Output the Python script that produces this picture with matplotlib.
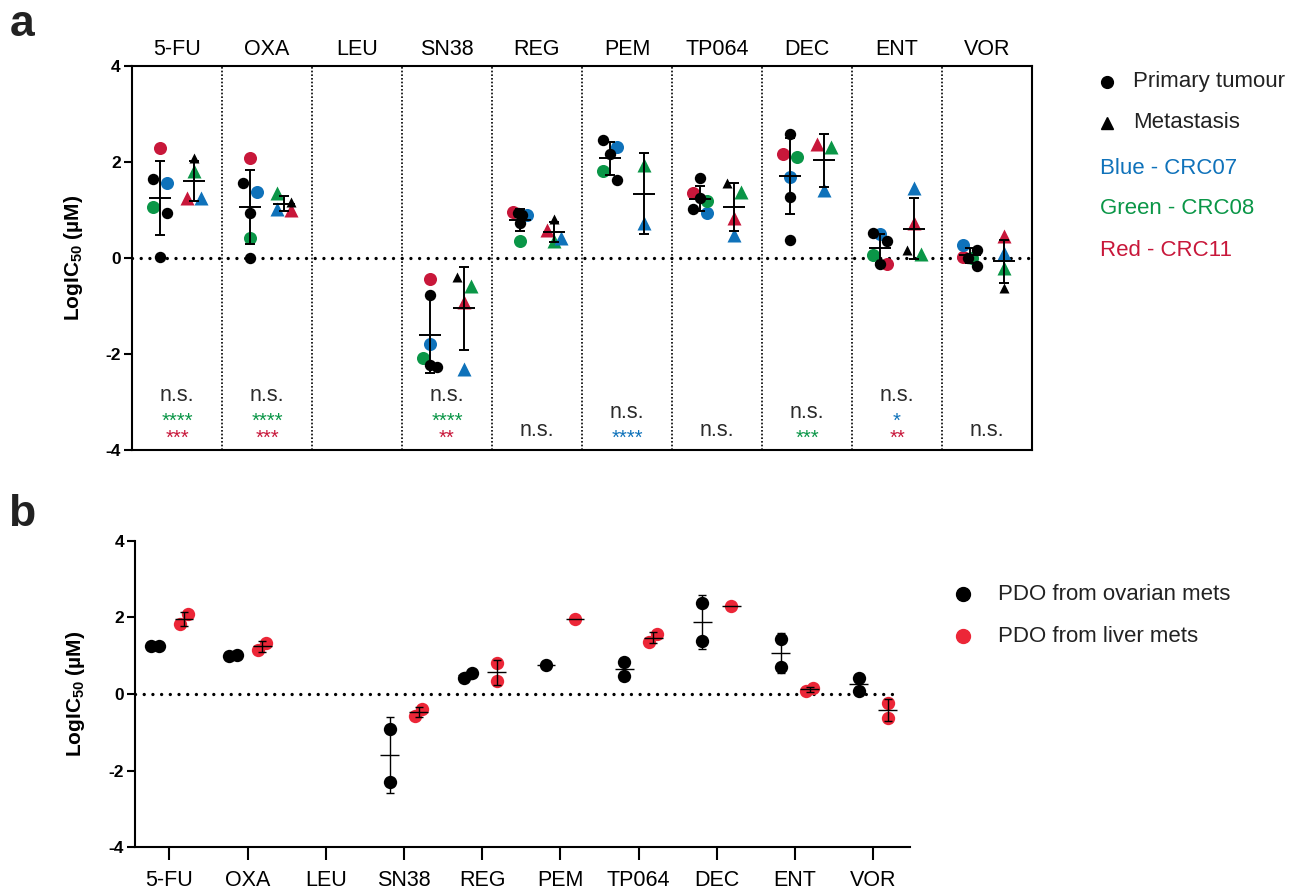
import matplotlib
matplotlib.use("Agg")
import matplotlib.pyplot as plt
import numpy as np
from matplotlib.lines import Line2D

plt.rcParams["font.family"] = ["Liberation Sans", "DejaVu Sans"]
plt.rcParams["mathtext.fontset"] = "custom"
plt.rcParams["mathtext.rm"] = "Liberation Sans"
plt.rcParams["mathtext.bf"] = "Liberation Sans:bold"
plt.rcParams["mathtext.it"] = "Liberation Sans:italic"
plt.rcParams["axes.unicode_minus"] = False

BLUE = "#0f72ba"
GREEN = "#0a9647"
RED = "#c8173a"
PDO_RED = "#ec2637"
NAN = np.nan

drugs = ["5-FU", "OXA", "LEU", "SN38", "REG", "PEM", "TP064", "DEC", "ENT", "VOR"]

# panel a - primary tumour
prim_crc07 = [1.56, 1.37, NAN, -1.79, 0.90, 2.32, 0.94, 1.70, 0.51, 0.28]
prim_crc08 = [1.07, 0.42, NAN, -2.09, 0.36, 1.82, 1.20, 2.11, 0.06, 0.00]
prim_crc11 = [2.29, 2.08, NAN, -0.44, 0.97, NAN, 1.35, 2.17, -0.12, 0.03]
prim_other = [[1.66, 0.94, 0.03], [1.56, 0.95, 0.01], [], [-0.77, -2.28, -2.24],
              [0.94, 0.90, 0.73], [2.46, 2.18, 1.63], [1.68, 1.25, 1.03],
              [2.60, 1.27, 0.37], [0.52, 0.36, -0.12], [0.17, 0.00, -0.16]]

# panel a - metastasis
met_crc07 = [1.25, 1.03, NAN, -2.31, 0.42, 0.74, 0.49, 1.41, 1.46, 0.10]
met_crc08 = [1.82, 1.35, NAN, -0.58, 0.35, 1.94, 1.37, 2.31, 0.09, -0.21]
met_crc11 = [1.25, 1.00, NAN, -0.92, 0.59, NAN, 0.83, 2.39, 0.73, 0.45]
met_other = [2.09, 1.16, NAN, -0.39, 0.81, NAN, 1.57, NAN, 0.17, -0.62]

# significance labels (text, cell line), top to bottom
sig = [
    [("n.s.", None), ("****", "CRC08"), ("***", "CRC11")],
    [("n.s.", None), ("****", "CRC08"), ("***", "CRC11")],
    [],
    [("n.s.", None), ("****", "CRC08"), ("**", "CRC11")],
    [("n.s.", None)],
    [("n.s.", None), ("****", "CRC07")],
    [("n.s.", None)],
    [("n.s.", None), ("***", "CRC08")],
    [("n.s.", None), ("*", "CRC07"), ("**", "CRC11")],
    [("n.s.", None)],
]

# panel b - PDOs
pdo_ovarian = [[1.25, 1.25], [1.00, 1.03], [], [-0.90, -2.30], [0.43, 0.56],
               [0.75], [0.84, 0.48], [2.38, 1.39], [1.45, 0.71], [0.43, 0.09]]
pdo_liver = [[1.83, 2.09], [1.15, 1.34], [], [-0.56, -0.38], [0.80, 0.33],
             [1.95], [1.37, 1.57], [2.30], [0.08, 0.17], [-0.22, -0.63]]

line_color = {"CRC07": BLUE, "CRC08": GREEN, "CRC11": RED, None: "#2b2b2b"}


def swarm(vals, width, thresh, ascending=False):
    # spread points that sit close in y side by side
    vals = np.asarray(vals, dtype=float)
    offs = np.zeros(len(vals))
    bins = []
    for idx in np.argsort(-vals, kind="stable"):
        if bins and vals[bins[-1][0]] - vals[idx] <= thresh:
            bins[-1].append(idx)
        else:
            bins.append([idx])
    for b in bins:
        if len(b) > 1:
            pos = np.linspace(-width / 2, width / 2, len(b))
            if ascending:
                pos = pos[::-1]
            offs[b] = pos
    return offs


def mean_sd(ax, x, vals, half, capsize, lw, color="black"):
    vals = np.asarray(vals)
    m = vals.mean()
    ax.plot([x - half, x + half], [m, m], color=color, lw=lw, zorder=5,
            solid_capstyle="butt")
    if len(vals) > 1:
        ax.errorbar(x, m, yerr=vals.std(ddof=1), color=color, lw=lw,
                    capsize=capsize, capthick=lw, zorder=5)


def style_yaxis(ax):
    ax.set_ylim(-4, 4)
    ax.set_yticks([-4, -2, 0, 2, 4])
    ax.tick_params(axis="y", length=6, width=1.5, labelsize=12.5, pad=2)
    for t in ax.get_yticklabels():
        t.set_fontweight("bold")


fig = plt.figure(figsize=(12.91, 8.91), dpi=100)

# ---------------- panel a ----------------
ax = fig.add_axes([0.1022, 0.4955, 0.6972, 0.4299])
ax.set_xlim(-0.5, 9.5)
style_yaxis(ax)
for s in ax.spines.values():
    s.set_linewidth(1.5)
ax.xaxis.tick_top()
ax.set_xticks(range(len(drugs)))
ax.set_xticklabels(drugs)
ax.tick_params(axis="x", length=0, pad=5, labelsize=15.5)
ax.set_ylabel("LogIC$_{\\mathbf{50}}$ (µM)", fontsize=15, fontweight="bold")
ax.yaxis.set_label_coords(-0.052, 0.5)

for i in range(len(drugs) - 1):
    ax.axvline(i + 0.5, color="black", lw=1.2, ls=(0, (1, 1.2)), zorder=1)
ax.axhline(0, color="black", lw=2.4, ls=(0, (0.01, 2.6)),
           dash_capstyle="round", zorder=2)

for i in range(len(drugs)):
    groups = [
        ("o", i - 0.19,
         [(v, None) for v in prim_other[i]]
         + [(prim_crc11[i], "CRC11"), (prim_crc07[i], "CRC07"), (prim_crc08[i], "CRC08")]),
        ("^", i + 0.19,
         [(met_crc11[i], "CRC11"), (met_other[i], None),
          (met_crc08[i], "CRC08"), (met_crc07[i], "CRC07")]),
    ]
    for marker, xc, pts in groups:
        pts = [p for p in pts if not np.isnan(p[0])]
        if not pts:
            continue
        vals = [p[0] for p in pts]
        offs = swarm(vals, 0.15, 0.2)
        for (v, cl), dx in zip(pts, offs):
            col = "black" if cl is None else line_color[cl]
            ms = 8.2 if cl is None else 9.4
            if marker == "^":
                ms = 7.8 if cl is None else 10.2
            ax.plot(xc + dx, v, marker=marker, ms=ms, color=col, mec="none",
                    ls="none", zorder=4 if cl is None else 3)
        mean_sd(ax, xc, vals, 0.125, 3.6, 1.4)

    # significance text stacked from the bottom
    y = None
    for text, cl in reversed(sig[i]):
        stars = text != "n.s."
        if y is None:
            y = -3.88 if stars else -3.72
        elif stars:
            y += 0.36
        else:
            y += 0.53
        ax.text(i, y, text, ha="center", va="baseline",
                fontsize=14.5 if stars else 15.5, color=line_color[cl])

# legend a
fig.add_artist(Line2D([1107 / 1291], [1 - 82 / 891], transform=fig.transFigure,
                      marker="o", ms=8.5, color="black", ls="none"))
fig.add_artist(Line2D([1107 / 1291], [1 - 123 / 891], transform=fig.transFigure,
                      marker="^", ms=8.5, color="black", ls="none"))
fig.text(1133 / 1291, 1 - 82 / 891, "Primary tumour", fontsize=16,
         va="center", color="#222222")
fig.text(1133 / 1291, 1 - 123 / 891, "Metastasis", fontsize=16,
         va="center", color="#222222")
for k, (txt, col) in enumerate([("Blue - CRC07", BLUE), ("Green - CRC08", GREEN),
                                 ("Red - CRC11", RED)]):
    fig.text(1100 / 1291, 1 - (168 + 41 * k) / 891, txt, fontsize=16,
             va="center", color=col)

# ---------------- panel b ----------------
bx = fig.add_axes([0.1046, 0.049, 0.6003, 0.3440])
bx.set_xlim(-0.44, 9.47)
style_yaxis(bx)
bx.spines["top"].set_visible(False)
bx.spines["right"].set_visible(False)
bx.spines["left"].set_linewidth(1.5)
bx.spines["bottom"].set_linewidth(1.5)
bx.set_xticks(range(len(drugs)))
bx.set_xticklabels(drugs)
bx.tick_params(axis="x", length=9, width=1.5, labelsize=15.5, pad=7)
bx.set_ylabel("LogIC$_{\\mathbf{50}}$ (µM)", fontsize=15, fontweight="bold")
bx.yaxis.set_label_coords(-0.062, 0.5)
bx.axhline(0, xmax=0.985, color="black", lw=2.4, ls=(0, (0.01, 2.6)),
           dash_capstyle="round", zorder=2)

for i in range(len(drugs)):
    for vals, xc, col in [(pdo_ovarian[i], i - 0.185, "black"),
                          (pdo_liver[i], i + 0.185, PDO_RED)]:
        if not vals:
            continue
        offs = swarm(vals, 0.1, 0.3, ascending=True)
        bx.plot(xc + offs, vals, "o", ms=9.6, color=col, mec="none", zorder=3)
        mean_sd(bx, xc, vals, 0.12, 3.0, 1.0)

fig.add_artist(Line2D([963 / 1291], [1 - 594 / 891], transform=fig.transFigure,
                      marker="o", ms=10, color="black", ls="none"))
fig.add_artist(Line2D([963 / 1291], [1 - 636 / 891], transform=fig.transFigure,
                      marker="o", ms=10, color=PDO_RED, ls="none"))
fig.text(998 / 1291, 1 - 594 / 891, "PDO from ovarian mets", fontsize=16,
         va="center", color="#222222")
fig.text(998 / 1291, 1 - 636 / 891, "PDO from liver mets", fontsize=16,
         va="center", color="#222222")

# panel letters
fig.text(22 / 1291, 1 - 25 / 891, "a", fontsize=32, fontweight="bold",
         ha="center", va="center", color="#222222")
fig.text(22 / 1291, 1 - 515 / 891, "b", fontsize=32, fontweight="bold",
         ha="center", va="center", color="#222222")

fig.savefig("out.png", dpi=100)
plt.close(fig)
